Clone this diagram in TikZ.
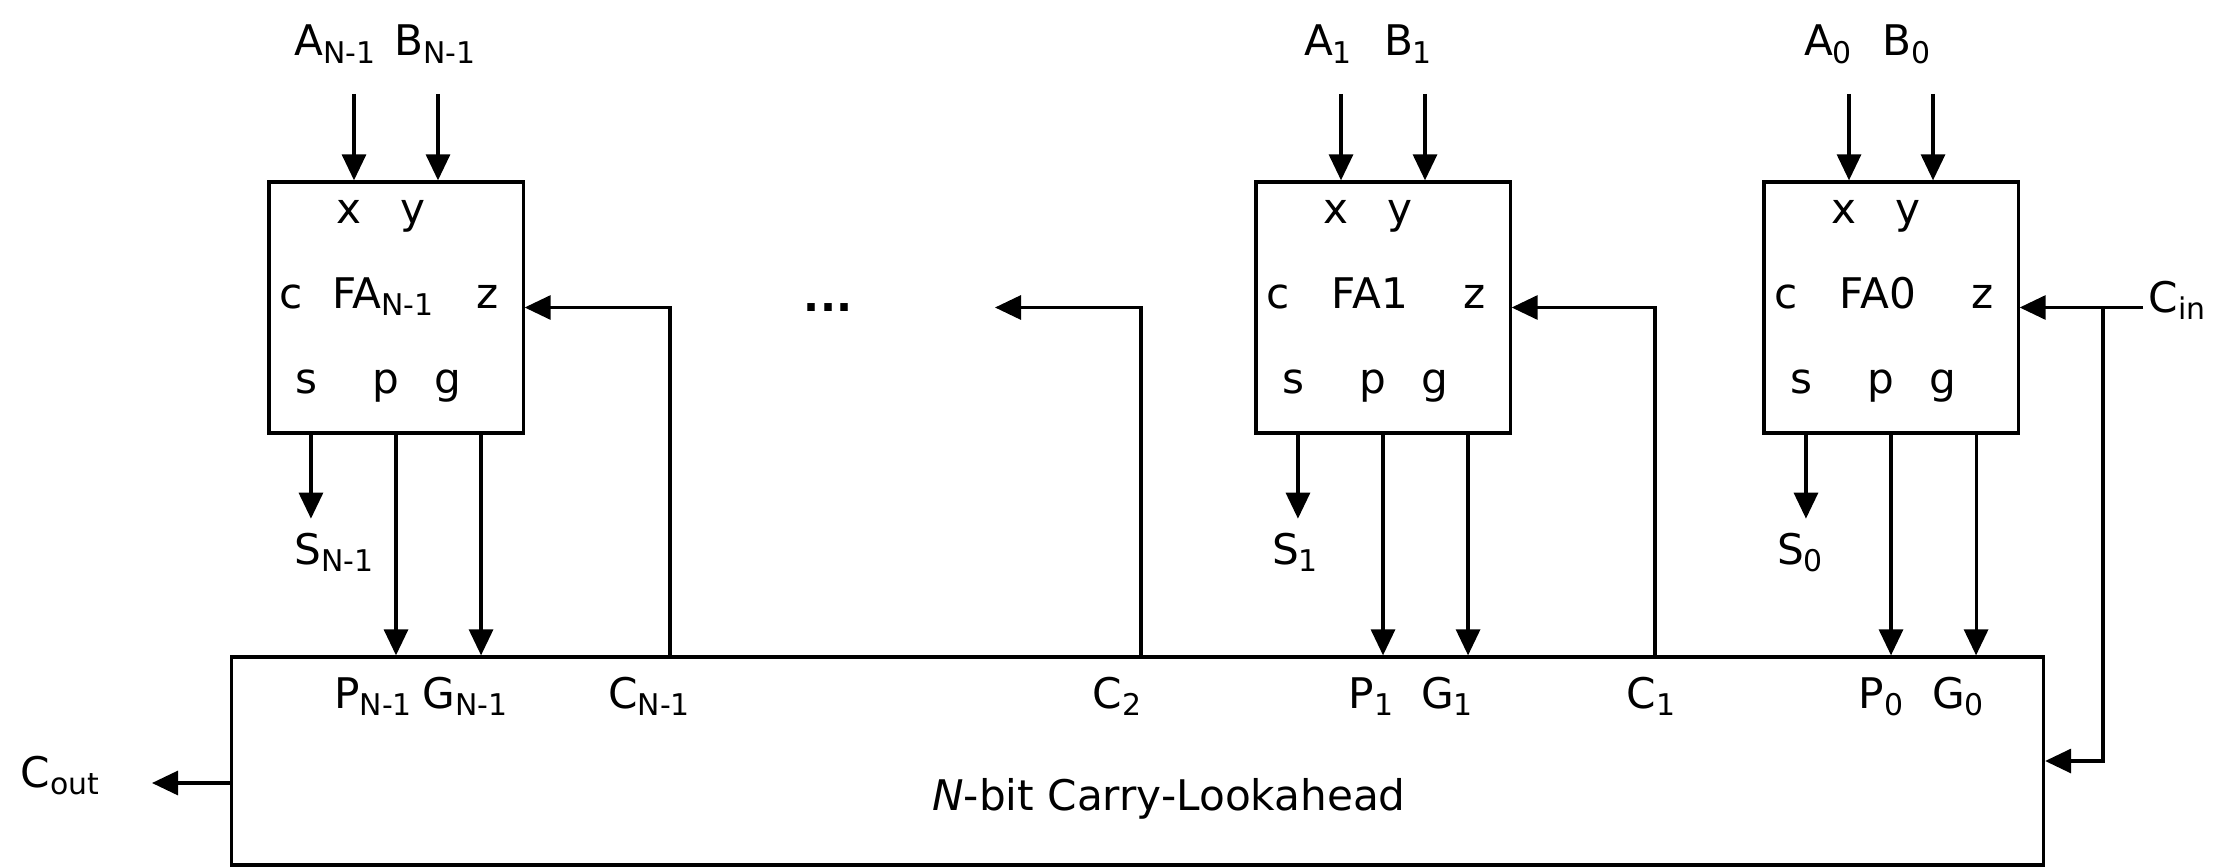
\documentclass[tikz,border=0pt]{standalone}
\usepackage{fontspec}
\setmainfont{DejaVu Sans}
\usetikzlibrary{arrows.meta,positioning}
\newcommand{\lsub}[1]{\raisebox{-2pt}{\fontsize{8.5}{9}\selectfont #1}}

\begin{document}
\begin{tikzpicture}[x=0.01cm,y=-0.01cm,every node/.style={font=\fontsize{12}{14}\selectfont,inner sep=1pt},
fabox/.style={draw,line width=0.9pt,minimum width=2.54cm,minimum height=2.51cm},
clabox/.style={draw,line width=0.9pt,minimum width=18.11cm,minimum height=2.08cm},
lbl/.style={anchor=base},
arrow/.style={-{Triangle[length=2.6mm,width=2.4mm]},line width=0.9pt}]
\useasboundingbox (0,0) rectangle (2213,867);
\node[clabox] (cla) at (1137.5,761) {};
\node[lbl] (clatext) at (1169,810) {\textit{N}-bit Carry-Lookahead};
% full adders
\foreach \cx/\b/\t in {396/fan/{FA\lsub{N-1}},1383/fa1/FA1,1891/fa0/FA0}{
\node[fabox] (\b) at (\cx,307.5) {};
\node[lbl] (\b-x) at (\cx-47,223) {x};
\node[lbl] (\b-y) at (\cx+17,223) {y};
\node[lbl] (\b-c) at (\cx-105,308) {c};
\node[lbl] (\b-n) at (\cx-13,308) {\t};
\node[lbl] (\b-z) at (\cx+92,308) {z};
\node[lbl] (\b-s) at (\cx-90,393) {s};
\node[lbl] (\b-p) at (\cx-10,393) {p};
\node[lbl] (\b-g) at (\cx+52,393) {g};
\coordinate (\b-a) at (\cx-42,94);
\coordinate (\b-bb) at (\cx+42,94);
\draw[arrow] (\b-a) -- (\b-a |- \b.north);
\draw[arrow] (\b-bb) -- (\b-bb |- \b.north);
\draw[arrow] ([xshift=-0.85cm]\b.south) -- ++(0,84);
\draw[arrow] (\b.south) -- (\b.south |- cla.north);
\draw[arrow] ([xshift=0.85cm]\b.south) -- ([xshift=0.85cm]\b.south |- cla.north);
}
% inputs and sums
\node[lbl] (an) at (335,56) {A\lsub{N-1}};
\node[lbl] (bn) at (435,56) {B\lsub{N-1}};
\node[lbl] (a1) at (1328,56) {A\lsub{1}};
\node[lbl] (b1) at (1408,56) {B\lsub{1}};
\node[lbl] (a0) at (1828,56) {A\lsub{0}};
\node[lbl] (b0) at (1906,56) {B\lsub{0}};
\node[lbl] (sn) at (334,564) {S\lsub{N-1}};
\node[lbl] (s1) at (1295,564) {S\lsub{1}};
\node[lbl] (s0) at (1800,564) {S\lsub{0}};
% lookahead labels
\node[lbl] (pn) at (373,708) {P\lsub{N-1}};
\node[lbl] (gn) at (465,708) {G\lsub{N-1}};
\node[lbl] (cn) at (649,708) {C\lsub{N-1}};
\node[lbl] (c2) at (1117,708) {C\lsub{2}};
\node[lbl] (p1) at (1371,708) {P\lsub{1}};
\node[lbl] (g1) at (1447,708) {G\lsub{1}};
\node[lbl] (c1) at (1651,708) {C\lsub{1}};
\node[lbl] (p0) at (1881,708) {P\lsub{0}};
\node[lbl] (g0) at (1958,708) {G\lsub{0}};
\node[lbl] (dots) at (828,311) {\textbf{...}};
% carries
\coordinate (tapn) at (670,657);
\coordinate (tap2) at (1141,657);
\coordinate (tap1) at (1655,657);
\coordinate (end2) at (995,307.5);
\draw[arrow] (tapn) |- (fan.east);
\draw[arrow] (tap2) |- (end2);
\draw[arrow] (tap1) |- (fa1.east);
\node[lbl] (cin) at (2177,312) {C\lsub{in}};
\coordinate (cinst) at (2143,307.5);
\coordinate (cinj) at (2103,307.5);
\draw[arrow] (cinst) -- (fa0.east);
\draw[arrow] (cinj) |- (cla.east);
\node[lbl] (cout) at (60,787) {C\lsub{out}};
\coordinate (outst) at (232,783);
\coordinate (outend) at (152,783);
\draw[arrow] (outst) -- (outend);
\end{tikzpicture}
\end{document}
